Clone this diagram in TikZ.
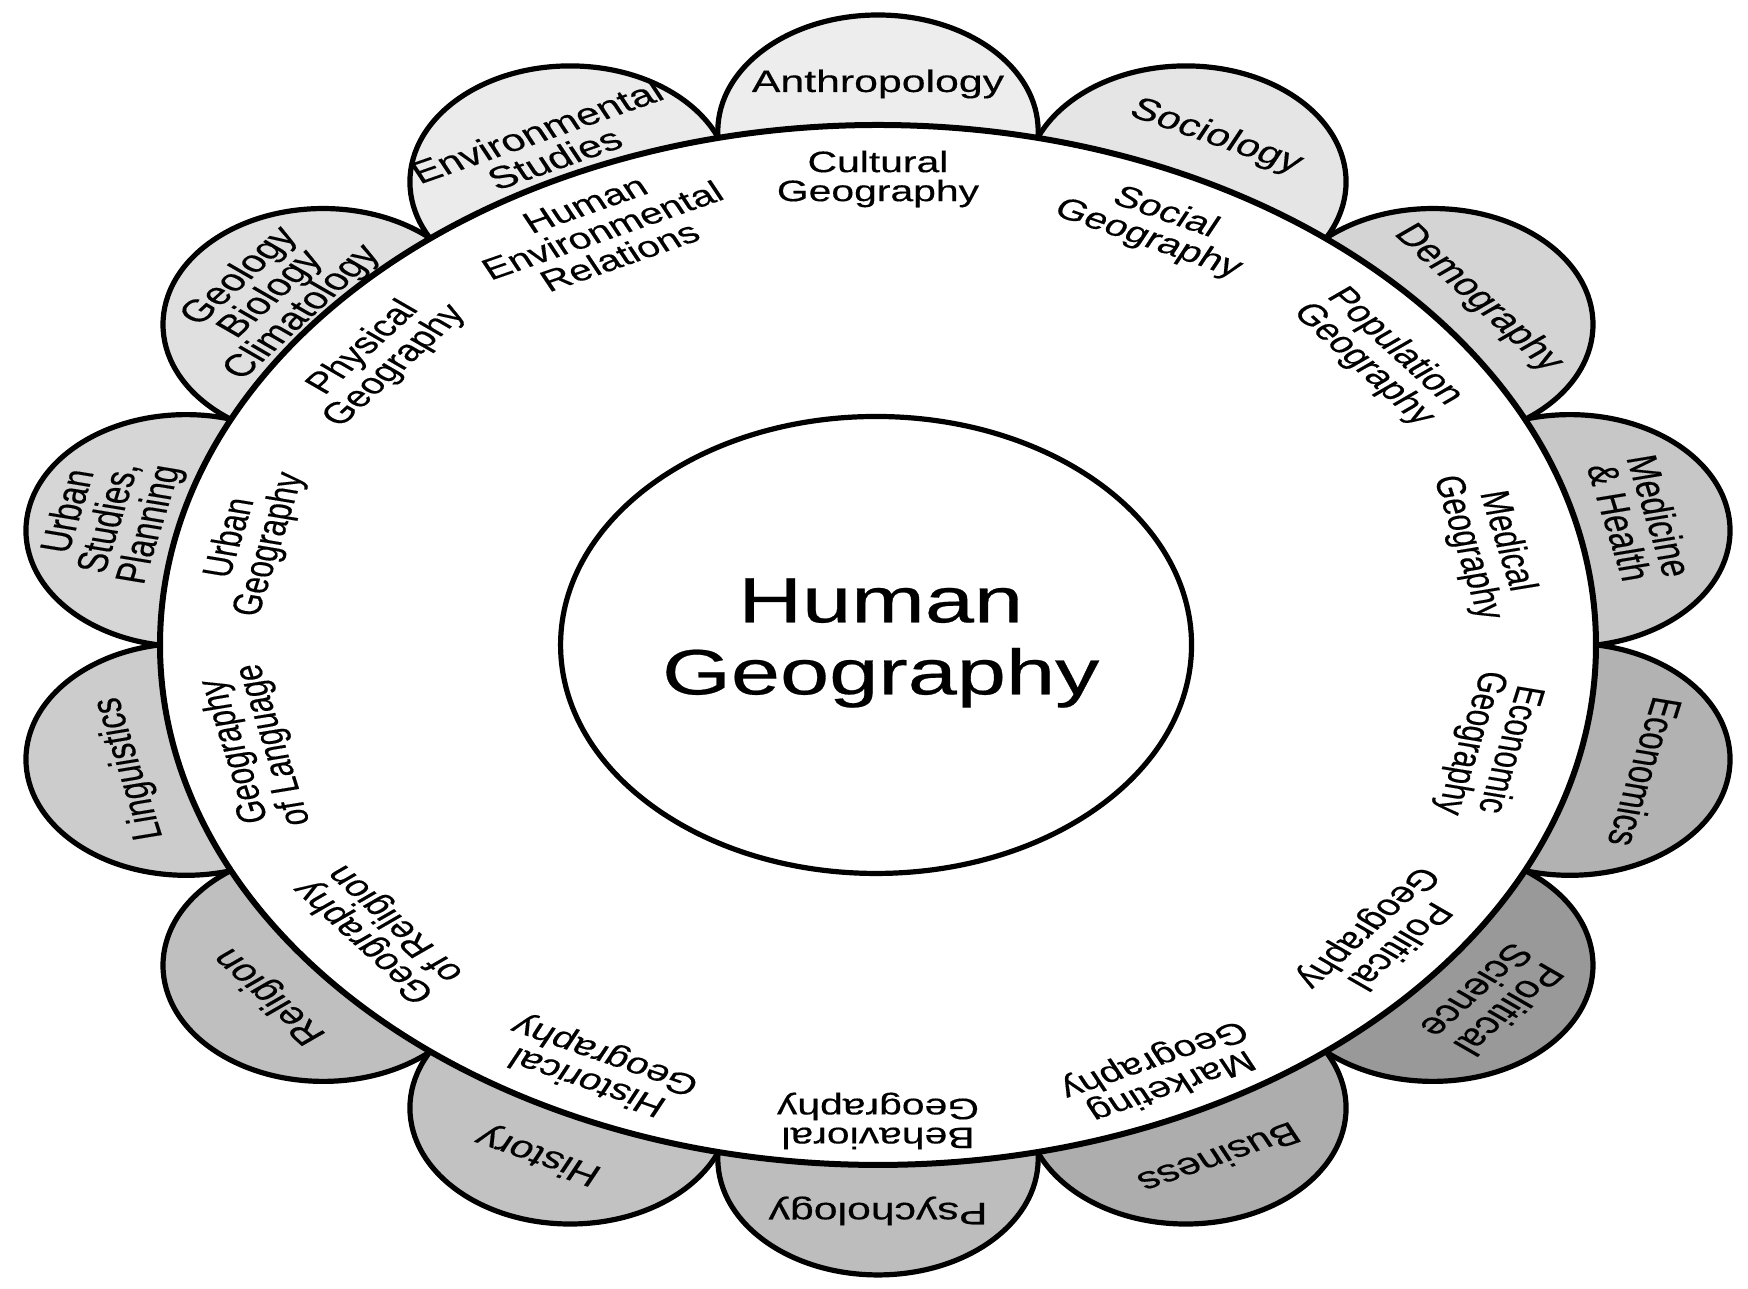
\documentclass[tikz,border=0pt]{standalone}
\usepackage{fontspec}
\setmainfont{Liberation Sans}[FakeBold=0.35]
\usepackage{tikz}
\usetikzlibrary{positioning}

\tikzset{
  petal/.style={draw=black, line width=2.6pt},
  ring/.style={draw=black, line width=3pt, fill=white},
  discipline/.style={align=center, inner sep=0pt, font=\fontsize{15.5}{15}\selectfont},
  branch/.style={align=center, inner sep=0pt, font=\fontsize{14.8}{14.5}\selectfont}
}

\begin{document}
\begin{tikzpicture}[x=0.5pt,y=0.5pt,xscale=1.3808,transform shape]
    \useasboundingbox (-635.9,-644) rectangle (630.1,645);
    \fill[white] (-635.9,-644) rectangle (630.1,645);

    % petals (angle / grey)
    \foreach \ang/\tone in {12.857/22, 38.571/17, 64.286/10, 90/7, 115.714/8, 141.429/12, 167.143/16,
                            192.857/20, 218.571/25, 244.286/24, 270/26, 295.714/32, 321.429/40, 347.143/30} {
        \draw[petal, fill=black!\tone] (\ang:514) circle [radius=116];
    }

    % main ring and centre
    \draw[ring] (0,0) circle [radius=520];
    \draw[ring, line width=2.6pt] (-1.4,0) circle [radius=228.5];
    \node[align=center, inner sep=0pt, font=\fontsize{32}{36}\selectfont] (human) at (2,2) {Human\\Geography};

    % outer disciplines
    \node[discipline, rotate=-77.14] (medic) at (12.857:566) {Medicine\\\& Health};
    \node[discipline, rotate=-51.43] (demo) at (38.571:556) {Demography};
    \node[discipline, rotate=-25.71] (socio) at (64.286:564) {Sociology};
    \node[discipline] (anthro) at (90:561) {Anthropology};
    \node[discipline, rotate=25.71] (environ) at (115.714:555) {Environmental\\Studies};
    \node[discipline, rotate=51.43, font=\fontsize{15.5}{14.5}\selectfont] (geology) at (141.429:562) {Geology\\Biology\\Climatology};
    \node[discipline, rotate=77.14] (urbanst) at (167.143:570) {Urban\\Studies,\\Planning};
    \node[discipline, rotate=102.86] (lingu) at (192.857:556) {Linguistics};
    \node[discipline, rotate=128.57] (religion) at (218.571:563) {Religion};
    \node[discipline, rotate=154.29] (history) at (244.286:566) {History};
    \node[discipline, rotate=180] (psych) at (270:566) {Psychology};
    \node[discipline, rotate=205.71] (business) at (295.714:570) {Business};
    \node[discipline, rotate=231.43] (polsci) at (321.429:570) {Political\\Science};
    \node[discipline, rotate=257.14] (econ) at (347.143:570) {Economics};

    % branches of human geography
    \node[branch, rotate=-77.14] (medical) at (12.857:452) {Medical\\Geography};
    \node[branch, rotate=-51.43] (popul) at (38.571:464) {Population\\Geography};
    \node[branch, rotate=-25.71] (social) at (64.286:465) {Social\\Geography};
    \node[branch] (cultural) at (90:466) {Cultural\\Geography};
    \node[branch, rotate=25.71] (humenv) at (115.714:460) {Human\\Environmental\\Relations};
    \node[branch, rotate=51.43] (physical) at (141.429:462) {Physical\\Geography};
    \node[branch, rotate=77.14] (urban) at (167.143:466) {Urban\\Geography};
    \node[branch, rotate=102.86] (language) at (192.857:463) {Geography\\of Language};
    \node[branch, rotate=128.57] (relgeo) at (218.571:461) {Geography\\of Religion};
    \node[branch, rotate=154.29] (historical) at (244.286:469) {Historical\\Geography};
    \node[branch, rotate=180] (behav) at (270:476) {Behavioral\\Geography};
    \node[branch, rotate=205.71] (marketing) at (295.714:474) {Marketing\\Geography};
    \node[branch, rotate=231.43] (political) at (321.429:467) {Political\\Geography};
    \node[branch, rotate=257.14] (economic) at (347.143:454) {Economic\\Geography};
\end{tikzpicture}
\end{document}
